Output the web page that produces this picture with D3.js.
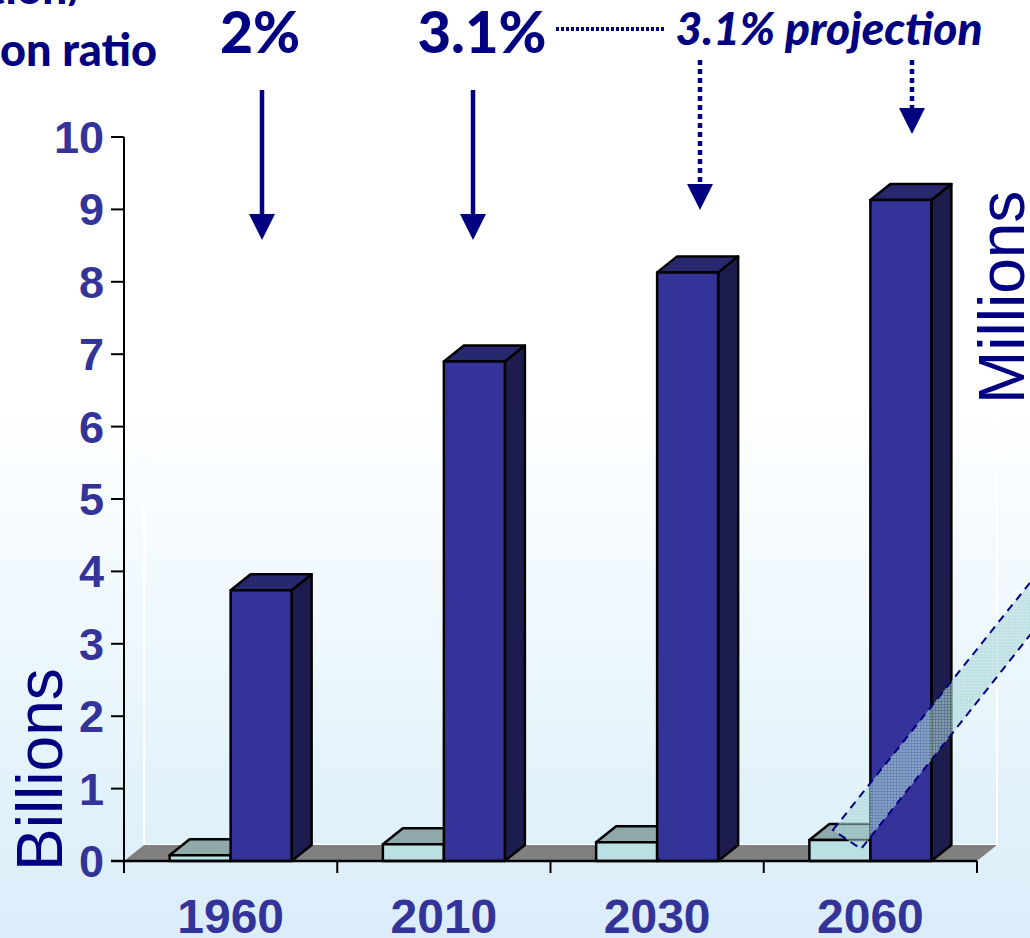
<!DOCTYPE html>
<html>
<head>
<meta charset="utf-8">
<script src="https://cdn.jsdelivr.net/npm/d3@7/dist/d3.min.js"></script>
<style>
html,body{margin:0;padding:0;background:#fff;overflow:hidden}
svg{display:block}
</style>
</head>
<body>
<svg id="chart" width="1030" height="938"></svg>
<script>
// World population (billions) and migrant population, four benchmark years
const years = ["1960", "2010", "2030", "2060"];
const population = [3.74, 6.9, 8.13, 9.13];
const migrants = [0.08, 0.23, 0.26, 0.29];
const yTicks = [0, 1, 2, 3, 4, 5, 6, 7, 8, 9, 10];
const ratioLabels = ["2%", "3.1%"];
const projectionLabel = "3.1% projection";

const svg = d3.select("#chart");
const W = 1030, H = 938;
const axisLeft = 124, axisRight = 977, baseY = 861, topY = 137;
const depthX = 20, depthY = 16;
const NAVY = "#000080", TICK_BLUE = "#333399";

const x = d3.scaleBand().domain(years).range([axisLeft, axisRight]);
const y = d3.scaleLinear().domain([0, 10]).range([baseY, topY]);
const barW = 61;

// Backdrop: white above, easing into pale blue towards the bottom
const defs = svg.append("defs");
const bg = defs.append("linearGradient").attr("id", "bg").attr("x1", 0).attr("y1", 0).attr("x2", 0).attr("y2", 1);
[[0, "#ffffff"], [0.42, "#ffffff"], [0.6, "#f3fafe"], [0.85, "#e2f2fa"], [1, "#dbedfa"]]
  .forEach(([o, c]) => bg.append("stop").attr("offset", o).attr("stop-color", c));
svg.append("rect").attr("width", W).attr("height", H).attr("fill", "url(#bg)");

// Fine woven texture for the translucent band
const pat = defs.append("pattern").attr("id", "weave").attr("patternUnits", "userSpaceOnUse").attr("width", 3).attr("height", 3);
pat.append("rect").attr("width", 3).attr("height", 3).attr("fill", "#aad6d8").attr("fill-opacity", 0.5);
pat.append("rect").attr("width", 2).attr("height", 2).attr("fill", "#aad6d8").attr("fill-opacity", 0.4);

// Back walls and floor of the 3D plot
const wall = svg.append("g").attr("fill", "none").attr("stroke", "#fff").attr("stroke-width", 2);
wall.append("path").attr("d", d3.line()([
  [axisLeft + depthX, topY - depthY], [axisLeft + depthX, baseY - depthY],
  [axisRight + depthX, baseY - depthY], [axisRight + depthX, topY - depthY]]));

svg.append("path").attr("fill", "#808080").attr("d", d3.line()([
  [axisLeft, baseY], [axisLeft + depthX, baseY - depthY],
  [axisRight + depthX, baseY - depthY], [axisRight, baseY]]) + "Z");

// A box with front, top and side faces
function box(g, x0, w, v, front, top, side) {
  const yt = y(v);
  const face = (pts, fill) => g.append("path").attr("d", d3.line()(pts) + "Z").attr("fill", fill)
    .attr("stroke", "#000").attr("stroke-width", 2.5).attr("stroke-linejoin", "round");
  face([[x0 + w, baseY], [x0 + w + depthX, baseY - depthY], [x0 + w + depthX, yt - depthY], [x0 + w, yt]], side);
  face([[x0, yt], [x0 + depthX, yt - depthY], [x0 + w + depthX, yt - depthY], [x0 + w, yt]], top);
  face([[x0, baseY], [x0, yt], [x0 + w, yt], [x0 + w, baseY]], front);
}

const bars = svg.append("g");
years.forEach((yr, i) => {
  const c = x(yr) + x.bandwidth() / 2;
  box(bars, c - barW, barW, migrants[i], "#bbe0e3", "#8fa8aa", "#8fa8aa");
  box(bars, c, barW, population[i], "#333399", "#28286e", "#1c1c4f");
});

// Axes
const axisG = svg.append("g");
axisG.append("path").attr("stroke", "#000").attr("stroke-width", 2).attr("fill", "none")
  .attr("d", d3.line()([[axisLeft, topY], [axisLeft, baseY + 12]]));
axisG.append("path").attr("stroke", "#000").attr("stroke-width", 2.5).attr("fill", "none")
  .attr("d", d3.line()([[axisLeft - 13, baseY], [axisRight, baseY]]));
axisG.selectAll(".ytick").data(yTicks).join("line").attr("class", "ytick")
  .attr("x1", axisLeft - 13).attr("x2", axisLeft)
  .attr("y1", d => y(d)).attr("y2", d => y(d))
  .attr("stroke", "#000").attr("stroke-width", 2);
axisG.selectAll(".ylab").data(yTicks).join("text").attr("class", "ylab")
  .attr("x", 104).attr("y", d => y(d) + 16)
  .attr("text-anchor", "end").attr("fill", TICK_BLUE)
  .attr("font-family", "'Liberation Sans', Arial, sans-serif").attr("font-weight", 700).attr("font-size", 45)
  .text(d => d);

const xEdges = x.domain().map(d => x(d)).concat([axisRight]);
axisG.selectAll(".xtick").data(xEdges).join("line").attr("class", "xtick")
  .attr("x1", d => d).attr("x2", d => d).attr("y1", baseY).attr("y2", baseY + 12)
  .attr("stroke", "#000").attr("stroke-width", 2);
axisG.selectAll(".xlab").data(years).join("text").attr("class", "xlab")
  .attr("x", d => x(d) + x.bandwidth() / 2).attr("y", 933)
  .attr("text-anchor", "middle").attr("fill", TICK_BLUE)
  .attr("font-family", "'Liberation Sans', Arial, sans-serif").attr("font-weight", 700).attr("font-size", 48)
  .text(d => d);

// Unit labels
const unit = (label, tx, ty) => svg.append("text")
  .attr("transform", `translate(${tx},${ty}) rotate(-90)`)
  .attr("fill", NAVY).attr("font-family", "'Liberation Sans', Arial, sans-serif").attr("font-size", 64)
  .text(label);
unit("Billions", 62, 871);
unit("Millions", 1024, 404);

// Ratio annotations over the bars
const HEAD = "Lato, 'Open Sans', sans-serif";
const hdr = (t, tx, ty, size, anchor, italic) => svg.append("text")
  .attr("x", tx).attr("y", ty).attr("fill", NAVY)
  .attr("font-family", HEAD).attr("font-weight", 900).attr("font-size", size)
  .attr("font-style", italic ? "italic" : "normal")
  .attr("text-anchor", anchor).text(t);
hdr("tion/", 88, 4, 44, "end");
hdr("on ratio", 157, 66, 45, "end");
hdr(ratioLabels[0], 260, 53, 57, "middle");
hdr(ratioLabels[1], 482, 53, 58, "middle");
hdr(projectionLabel, 829, 45, 46, "middle", true);

// Dotted leader from the current ratio to the projection label
svg.append("line").attr("x1", 556).attr("x2", 664).attr("y1", 29).attr("y2", 29)
  .attr("stroke", NAVY).attr("stroke-width", 4).attr("stroke-dasharray", "3 2");

// Arrows pointing down at each bar group
function arrow(cx, y0, y1, dashed) {
  const line = svg.append("line").attr("x1", cx).attr("x2", cx).attr("y1", y0).attr("y2", y1 - 24)
    .attr("stroke", NAVY).attr("stroke-width", 4.5);
  if (dashed) line.attr("stroke-dasharray", "5 4");
  svg.append("path").attr("fill", NAVY)
    .attr("d", d3.line()([[cx - 13, y1 - 26], [cx + 13, y1 - 26], [cx, y1]]) + "Z");
}
arrow(262, 90, 240, false);
arrow(473, 90, 240, false);
arrow(700, 60, 210, true);
arrow(912, 60, 134, true);

// Translucent dashed band rising off the 2060 migrant bar
const band = [[833, 830], [1060, 545], [1060, 597], [861, 849]];
svg.append("path").attr("fill", "url(#weave)").attr("d", d3.line()(band) + "Z");
svg.append("path").attr("fill", "none").attr("stroke", NAVY).attr("stroke-width", 2)
  .attr("stroke-dasharray", "8 6").attr("d", d3.line()(band) + "Z");
</script>
</body>
</html>
